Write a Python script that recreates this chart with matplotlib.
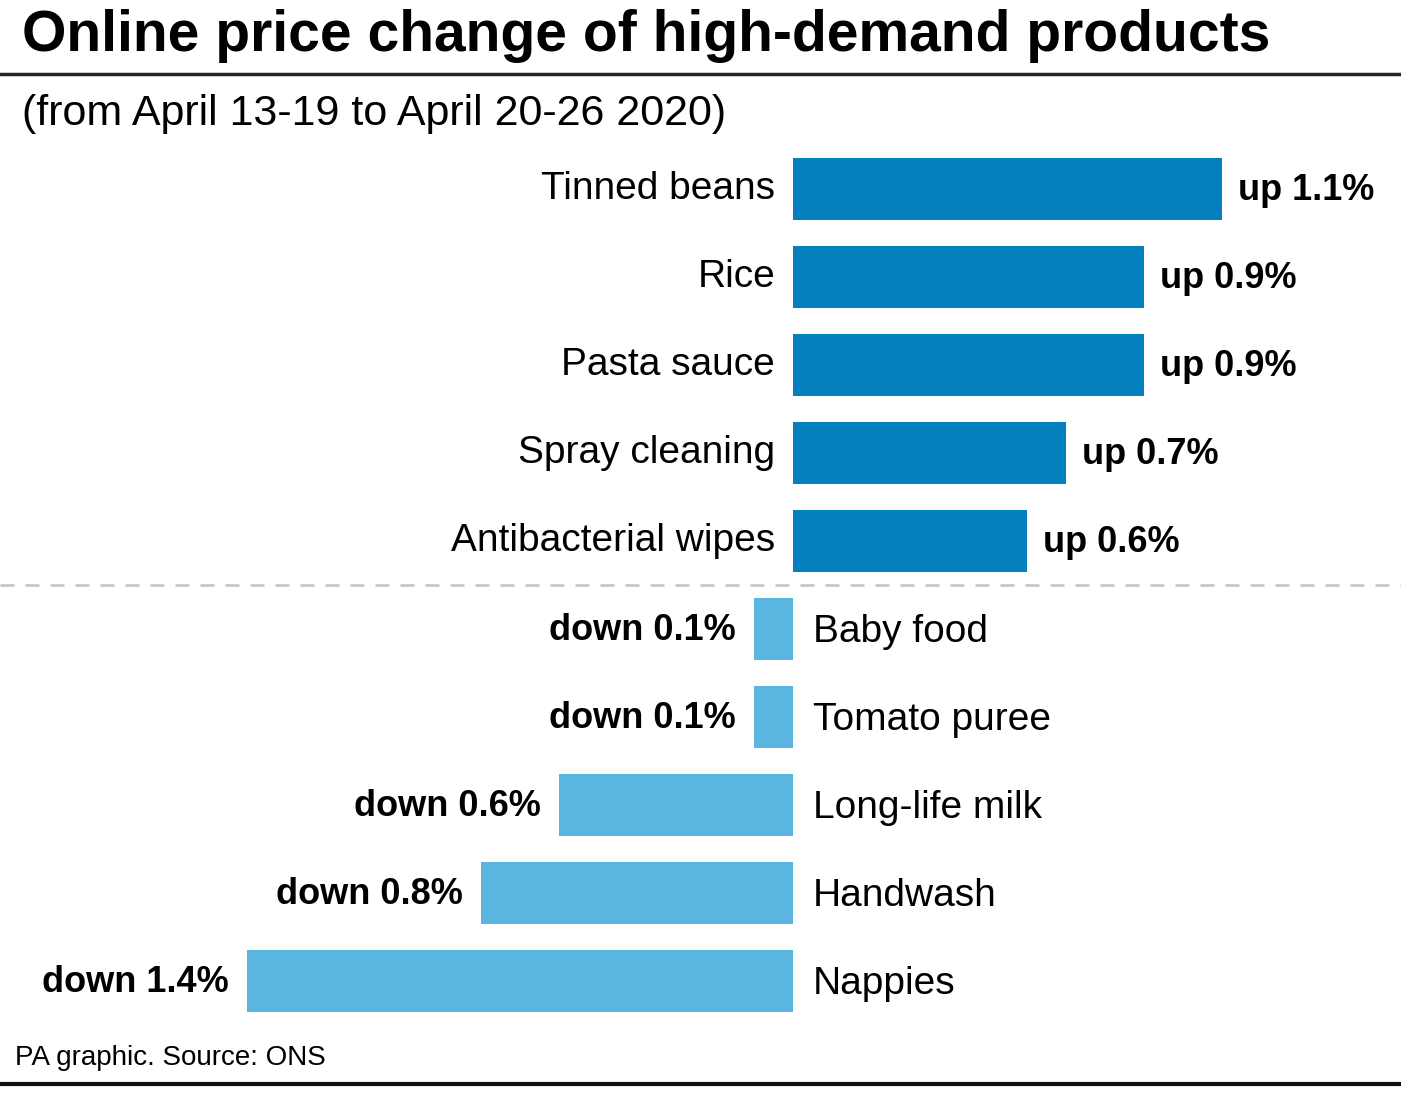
import matplotlib
matplotlib.use('Agg')
import matplotlib.pyplot as plt

up_items = ['Tinned beans', 'Rice', 'Pasta sauce', 'Spray cleaning', 'Antibacterial wipes']
up_vals = [1.1, 0.9, 0.9, 0.7, 0.6]
down_items = ['Baby food', 'Tomato puree', 'Long-life milk', 'Handwash', 'Nappies']
down_vals = [-0.1, -0.1, -0.6, -0.8, -1.4]

W, H = 1401, 1098
plt.rcParams['font.family'] = ['Liberation Sans', 'DejaVu Sans']

fig = plt.figure(figsize=(W / 100, H / 100), dpi=100)

# axes spans whole figure; 0% sits at x=793px, 1% = 390px, rows 88px apart starting at y=189px
ax = fig.add_axes([0, 0, 1, 1])
px_per_pct = 390
zero_px = 793
ax.set_xlim(-zero_px / px_per_pct, (W - zero_px) / px_per_pct)
row0, step = 189, 88
ax.set_ylim((H - row0) / step, -row0 / step)
ax.axis('off')

dark = '#0380bd'
light = '#5ab5e0'
gap = 18 / px_per_pct
fs = 28
fsb = 26

items = up_items + down_items
vals = up_vals + down_vals
ys = list(range(len(items)))
for y, name, v in zip(ys, items, vals):
    col = dark if v > 0 else light
    ax.barh(y, v, height=62 / step, color=col, linewidth=0)
    if v > 0:
        ax.text(-gap, y, name, ha='right', va='center', fontsize=fs)
        ax.text(v + gap * 0.9, y + 0.02, f'up {v:g}%', ha='left', va='center',
                fontsize=fsb, fontweight='bold')
    else:
        ax.text(gap * 1.1, y + 0.03, name, ha='left', va='center', fontsize=fs)
        ax.text(v - gap, y + 0.02, f'down {abs(v):g}%', ha='right', va='center',
                fontsize=fsb, fontweight='bold')

# dashed divider between up and down
ax.axhline(4.5, color='#c8c8c8', lw=2, ls=(0, (5, 4)))

def fx(x):
    return x / W

def fy(y):
    return 1 - y / H

fig.text(fx(22), fy(36), 'Online price change of high-demand products',
         fontsize=41, fontweight='bold', va='center', ha='left')
fig.add_artist(plt.Line2D([0, 1], [fy(74), fy(74)], color='#222222', lw=2.5))
fig.text(fx(22), fy(114), '(from April 13-19 to April 20-26 2020)',
         fontsize=31, va='center', ha='left')
fig.text(fx(15), fy(1058), 'PA graphic. Source: ONS', fontsize=20,
         va='center', ha='left')
fig.add_artist(plt.Line2D([0, 1], [fy(1084), fy(1084)], color='#111111', lw=3))

fig.savefig('out.png', dpi=100, facecolor='white')
